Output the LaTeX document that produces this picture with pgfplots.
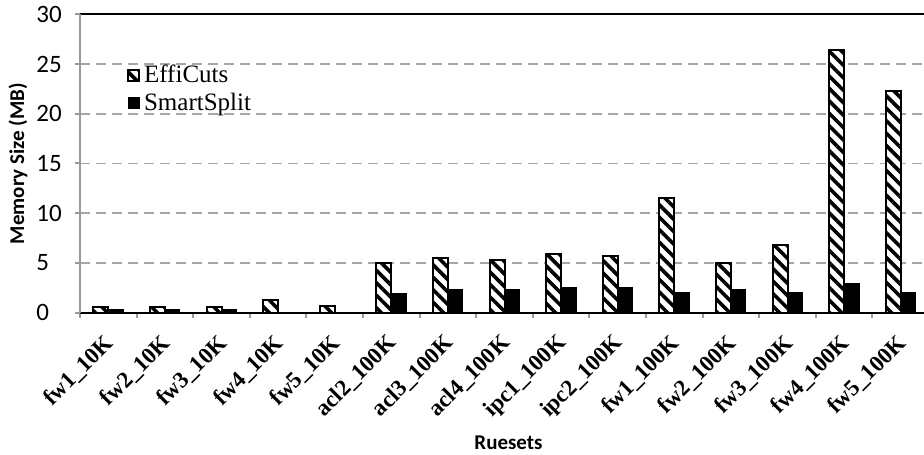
\documentclass[border=0pt]{standalone}
\usepackage{pgfplots}
\pgfplotsset{compat=1.18}
\usepackage{fontspec}
\setmainfont{Liberation Serif}
\newfontfamily\carlito{Carlito}
\usetikzlibrary{patterns.meta}
\pgfplotsset{squarelegend/.style={legend image code/.code={\draw[##1] (0pt,-2.75pt) rectangle (5.5pt,2.75pt);}}}

\begin{document}
\begin{tikzpicture}
\begin{axis}[
  at={(0,0)}, anchor=south west,
  scale only axis, width=424.5pt, height=149pt,
  xmin=-0.5, xmax=14.5, ymin=0, ymax=30,
  ybar=0pt, bar width=7.5pt,
  xtick={0,...,14},
  xticklabels={fw1\_10K,fw2\_10K,fw3\_10K,fw4\_10K,fw5\_10K,acl2\_100K,acl3\_100K,acl4\_100K,ipc1\_100K,ipc2\_100K,fw1\_100K,fw2\_100K,fw3\_100K,fw4\_100K,fw5\_100K},
  minor xtick={-0.5,0.5,...,14.5},
  ytick={0,5,...,30},
  tick align=outside, tick pos=left,
  major tick length=2.5pt, minor tick length=2.5pt,
  major x tick style={draw=none},
  minor x tick style={draw=gray!80, line width=1pt},
  y tick style={draw=gray!80, line width=1pt},
  separate axis lines,
  x axis line style={black, line width=1pt},
  y axis line style={gray!80, line width=1pt},
  ymajorgrids,
  grid style={gray!70, line width=0.9pt, dash pattern=on 5pt off 3pt},
  /pgf/number format/assume math mode=true,
  yticklabel style={font=\carlito\fontsize{12.5}{14}\selectfont, anchor=west, inner sep=0pt, xshift=-19.5pt},
  xticklabel style={font=\bfseries\fontsize{11.5}{13}\selectfont, xshift=1pt, yshift=-11pt, rotate=45, anchor=east, inner sep=0pt},
  xlabel={Ruesets},
  ylabel={Memory Size (MB)},
  xlabel style={font=\carlito\bfseries\fontsize{10.5}{12}\selectfont, at={([yshift=-65pt, xshift=2pt]axis description cs:0.5,0)}, anchor=center},
  ylabel style={font=\carlito\bfseries\fontsize{10.5}{12}\selectfont, at={([xshift=-31pt]axis description cs:0,0.5)}, anchor=center},
  legend style={at={(0.055,0.838)}, anchor=north west, draw=none, fill=none, font=\fontsize{12.5}{14}\selectfont, row sep=1.5pt, inner sep=0pt, nodes={inner xsep=2pt, inner ysep=1pt}},
  legend cell align=left,
]
\addplot[draw=black, line width=1pt, preaction={fill=white}, pattern={Lines[angle=-45, distance=4.4pt, line width=1.8pt]}, pattern color=black, squarelegend]
coordinates {(0,0.6) (1,0.6) (2,0.6) (3,1.3) (4,0.7) (5,5.0) (6,5.5) (7,5.25) (8,5.9) (9,5.7) (10,11.5) (11,5.0) (12,6.8) (13,26.4) (14,22.3)};
\addplot[draw=black, fill=black, line width=0.5pt, squarelegend]
coordinates {(0,0.35) (1,0.35) (2,0.35) (3,0.03) (4,0.03) (5,1.9) (6,2.3) (7,2.3) (8,2.55) (9,2.5) (10,2.05) (11,2.3) (12,2.05) (13,2.95) (14,2.05)};
\legend{EffiCuts, SmartSplit}
\end{axis}
\pgfresetboundingbox
\path[use as bounding box] (-40pt,-70.75pt) rectangle (422pt,156.25pt);
\end{tikzpicture}
\end{document}
